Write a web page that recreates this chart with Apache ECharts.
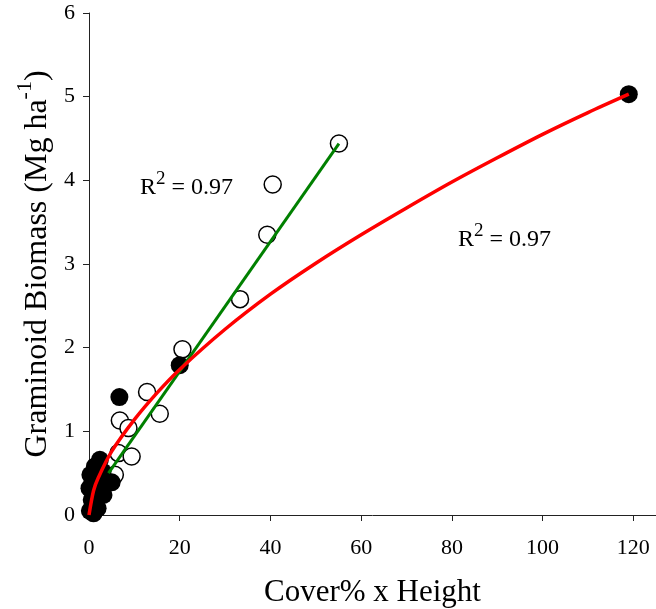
<!DOCTYPE html>
<html style="height: 100%">
<head>
    <meta charset="utf-8">
</head>
<body style="height: 100%; margin: 0; background: #fff">
    <div id="container" style="width: 656px; height: 609px"></div>
    <script type="text/javascript" src="https://cdn.jsdelivr.net/npm/echarts@6/dist/echarts.min.js"></script>
    <script type="text/javascript">
        // open circles (green linear fit)
        var openPts = [
            [55.1, 4.44], [40.5, 3.95], [39.3, 3.35], [33.3, 2.58], [20.6, 1.98],
            [12.8, 1.47], [15.6, 1.21], [6.8, 1.13], [8.7, 1.04], [6.5, 0.74],
            [9.4, 0.70], [5.7, 0.48], [3.0, 0.45], [1.5, 0.25]
        ];
        // filled circles (red power fit)
        var filledPts = [
            [119, 5.03], [20.0, 1.79], [6.7, 1.41], [2.4, 0.66], [1.3, 0.58],
            [0.3, 0.48], [0.1, 0.32], [0.6, 0.18], [0.2, 0.05], [1.9, 0.08],
            [3.2, 0.24], [5.0, 0.39], [2.2, 0.40], [1.0, 0.02], [3.0, 0.52], [0.8, 0.40]
        ];
        // fitted lines
        var greenFit = [[4.3, 0.50], [55.1, 4.44]];
        var redFit = [
            [0, 0.0], [1, 0.29], [2, 0.44], [5, 0.76], [10, 1.14], [15, 1.46], [20, 1.74],
            [30, 2.22], [40, 2.64], [50, 3.01], [60, 3.35], [70, 3.67], [80, 3.98],
            [90, 4.27], [100, 4.55], [110, 4.81], [119, 5.03]
        ];
        var r2Text = 'R{sup|2} = 0.97';

        var serif = '"Liberation Serif", "Times New Roman", serif';
        var chart = echarts.init(document.getElementById('container'));

        var r2Style = function (txt) {
            return {
                text: txt, fontFamily: serif, fontSize: 24, fill: '#000', lineHeight: 36, verticalAlign: 'bottom',
                rich: { sup: { fontFamily: serif, fontSize: 19, fill: '#000', verticalAlign: 'top', lineHeight: 19 } }
            };
        };

        var option = {
            animation: false,
            backgroundColor: '#fff',
            grid: { left: 89, right: 0, top: 13, bottom: 94, containLabel: false, outerBoundsMode: 'none' },
            xAxis: {
                type: 'value', min: 0, max: 125, interval: 20,
                name: 'Cover% x Height', nameLocation: 'middle', nameGap: 62,
                nameTextStyle: { fontFamily: serif, fontSize: 31, color: '#000' },
                axisLine: { show: true, lineStyle: { color: '#222', width: 1 } },
                axisTick: { show: true, length: 6, lineStyle: { color: '#222' } },
                axisLabel: { fontFamily: serif, fontSize: 22, color: '#000', margin: 22, showMaxLabel: false },
                splitLine: { show: false }
            },
            yAxis: {
                type: 'value', min: 0, max: 6, interval: 1,
                name: 'Graminoid Biomass (Mg ha{sup|-1})', nameLocation: 'middle', nameGap: 27,
                nameMoveOverlap: false,
                nameTextStyle: {
                    fontFamily: serif, fontSize: 32, color: '#000', lineHeight: 48, verticalAlign: 'bottom',
                    rich: { sup: { fontFamily: serif, fontSize: 22, color: '#000', verticalAlign: 'top', lineHeight: 22 } }
                },
                axisLine: { show: true, lineStyle: { color: '#222', width: 1 } },
                axisTick: { show: true, length: 6, lineStyle: { color: '#222' } },
                axisLabel: { fontFamily: serif, fontSize: 22, color: '#000', margin: 14 },
                splitLine: { show: false }
            },
            graphic: [
                { type: 'text', left: 140, top: 170, z: 100, style: r2Style(r2Text) },
                { type: 'text', left: 458, top: 222, z: 100, style: r2Style(r2Text) }
            ],
            series: [
                {
                    type: 'scatter', data: openPts, symbolSize: 17, z: 2,
                    itemStyle: { color: '#fff', borderColor: '#000', borderWidth: 1.5, opacity: 1 }
                },
                {
                    type: 'scatter', data: filledPts, symbolSize: 18, z: 3,
                    itemStyle: { color: '#000', opacity: 1 }
                },
                {
                    type: 'line', data: greenFit, symbol: 'none', z: 4,
                    lineStyle: { color: '#008000', width: 3 }
                },
                {
                    type: 'line', data: redFit, symbol: 'none', smooth: 0.3, z: 5,
                    lineStyle: { color: '#ff0000', width: 3.5 }
                }
            ]
        };
        chart.setOption(option);
    </script>
</body>
</html>
